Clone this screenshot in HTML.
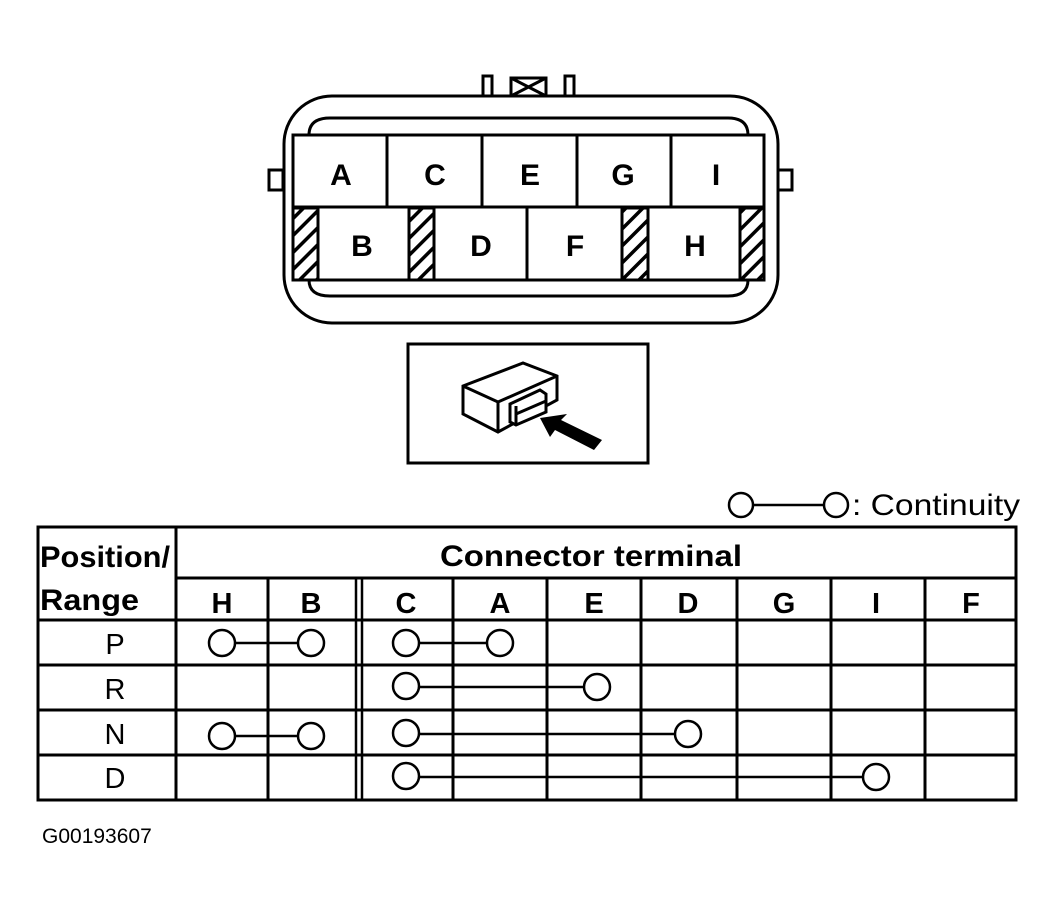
<!DOCTYPE html>
<html><head><meta charset="utf-8"><style>
html,body{margin:0;padding:0;background:#fff;}
svg{display:block;}
text{font-family:"Liberation Sans",Arial,sans-serif;font-weight:bold;fill:#000;}
text.n{font-weight:normal;}
</style></head><body>
<svg width="1058" height="921" viewBox="0 0 1058 921" xmlns="http://www.w3.org/2000/svg">
<defs>
<pattern id="h" patternUnits="userSpaceOnUse" width="12" height="12" patternTransform="rotate(45)">
<rect width="12" height="12" fill="#fff"/><rect x="0" y="0" width="3.5" height="12" fill="#000"/>
</pattern>
</defs>
<g fill="none" stroke="#000" stroke-width="3">
<rect x="284" y="96" width="494" height="227" rx="48"/>
<path d="M309 135 Q309 118 330 118 L728 118 Q748 118 748 135"/>
<path d="M309 280 Q309 296 330 296 L728 296 Q748 296 748 280"/>
<rect x="483" y="76" width="9" height="20" fill="#fff"/>
<rect x="565" y="76" width="9" height="20" fill="#fff"/>
<rect x="511" y="78" width="35" height="18" fill="#fff"/>
<path d="M511 78 L546 96 M546 78 L511 96"/>
<rect x="269" y="170" width="14" height="20" fill="#fff"/>
<rect x="778" y="170" width="14" height="20" fill="#fff"/>
<rect x="293" y="135" width="471" height="145" fill="#fff"/>
<line x1="293" y1="207" x2="764" y2="207"/>
<line x1="387" y1="135" x2="387" y2="207"/>
<line x1="482" y1="135" x2="482" y2="207"/>
<line x1="577" y1="135" x2="577" y2="207"/>
<line x1="671" y1="135" x2="671" y2="207"/>
<rect x="293" y="208" width="25" height="72" fill="url(#h)"/>
<rect x="409" y="208" width="25" height="72" fill="url(#h)"/>
<rect x="622" y="208" width="26" height="72" fill="url(#h)"/>
<rect x="740" y="208" width="24" height="72" fill="url(#h)"/>
<line x1="318" y1="207" x2="318" y2="280"/>
<line x1="409" y1="207" x2="409" y2="280"/>
<line x1="434" y1="207" x2="434" y2="280"/>
<line x1="527" y1="207" x2="527" y2="280"/>
<line x1="622" y1="207" x2="622" y2="280"/>
<line x1="648" y1="207" x2="648" y2="280"/>
<line x1="740" y1="207" x2="740" y2="280"/>
<rect x="293" y="135" width="471" height="145"/>
<rect x="408" y="344" width="240" height="119"/>
<path d="M463 386 L523 363 L557 376 L557 400 L498 432 L463 414 Z" fill="#fff"/>
<path d="M463 386 L498 402 L557 376 M498 402 L498 432"/>
<path d="M510 404 L540 390 L546 394 L546 412 L516 425 L510 422 Z" fill="#fff"/>
<path d="M516 406 L516 425 M516 414 L546 401"/>
</g>
<path d="M540 418 L567 414 L561 420 L602 440 L594 450 L555 430 L550 437 Z" fill="#000"/>
<g font-size="30" text-anchor="middle">
<text x="341" y="185">A</text><text x="435" y="185">C</text><text x="530" y="185">E</text>
<text x="623" y="185">G</text><text x="716" y="185">I</text>
<text x="362" y="256">B</text><text x="481" y="256">D</text><text x="575" y="256">F</text><text x="695" y="256">H</text>
</g>
<g fill="#fff" stroke="#000" stroke-width="2.5">
<line x1="753" y1="505" x2="824" y2="505"/>
<circle cx="741" cy="505" r="12"/><circle cx="836" cy="505" r="12"/>
</g>
<text class="n" x="852" y="515" font-size="30" textLength="168" lengthAdjust="spacingAndGlyphs">: Continuity</text>
<g fill="none" stroke="#000" stroke-width="3">
<rect x="38" y="527" width="978" height="273"/>
<line x1="176" y1="578" x2="1016" y2="578"/>
<line x1="38" y1="620" x2="1016" y2="620"/>
<line x1="38" y1="665" x2="1016" y2="665"/>
<line x1="38" y1="710" x2="1016" y2="710"/>
<line x1="38" y1="755" x2="1016" y2="755"/>
<line x1="176" y1="527" x2="176" y2="800"/>
<line x1="268" y1="578" x2="268" y2="800"/>
<line x1="356" y1="578" x2="356" y2="800" stroke-width="2.5"/>
<line x1="362" y1="578" x2="362" y2="800" stroke-width="2.5"/>
<line x1="453" y1="578" x2="453" y2="800"/>
<line x1="547" y1="578" x2="547" y2="800"/>
<line x1="641" y1="578" x2="641" y2="800"/>
<line x1="737" y1="578" x2="737" y2="800"/>
<line x1="831" y1="578" x2="831" y2="800"/>
<line x1="925" y1="578" x2="925" y2="800"/>
</g>
<text x="40" y="567" font-size="30" textLength="130" lengthAdjust="spacingAndGlyphs">Position/</text>
<text x="40" y="610" font-size="30" textLength="99" lengthAdjust="spacingAndGlyphs">Range</text>
<text x="591" y="566" font-size="30" text-anchor="middle" textLength="302" lengthAdjust="spacingAndGlyphs">Connector terminal</text>
<g font-size="29" text-anchor="middle">
<text x="222" y="613">H</text><text x="311" y="613">B</text><text x="406" y="613">C</text><text x="500" y="613">A</text>
<text x="594" y="613">E</text><text x="688" y="613">D</text><text x="784" y="613">G</text><text x="876" y="613">I</text><text x="971" y="613">F</text>
</g>
<g font-size="29" text-anchor="middle">
<text class="n" x="115" y="654">P</text><text class="n" x="115" y="699">R</text>
<text class="n" x="115" y="744">N</text><text class="n" x="115" y="788">D</text>
</g>
<g fill="#fff" stroke="#000" stroke-width="2.5">
<line x1="222" y1="643" x2="311" y2="643"/><circle cx="222" cy="643" r="13"/><circle cx="311" cy="643" r="13"/>
<line x1="406" y1="643" x2="500" y2="643"/><circle cx="406" cy="643" r="13"/><circle cx="500" cy="643" r="13"/>
<line x1="406" y1="687" x2="597" y2="687"/><circle cx="406" cy="686" r="13"/><circle cx="597" cy="687" r="13"/>
<line x1="222" y1="736" x2="311" y2="736"/><circle cx="222" cy="736" r="13"/><circle cx="311" cy="736" r="13"/>
<line x1="406" y1="734" x2="688" y2="734"/><circle cx="406" cy="733" r="13"/><circle cx="688" cy="734" r="13"/>
<line x1="406" y1="777" x2="876" y2="777"/><circle cx="406" cy="776" r="13"/><circle cx="876" cy="777" r="13"/>
</g>
<text class="n" x="42" y="843" font-size="21">G00193607</text>
</svg>
</body></html>
